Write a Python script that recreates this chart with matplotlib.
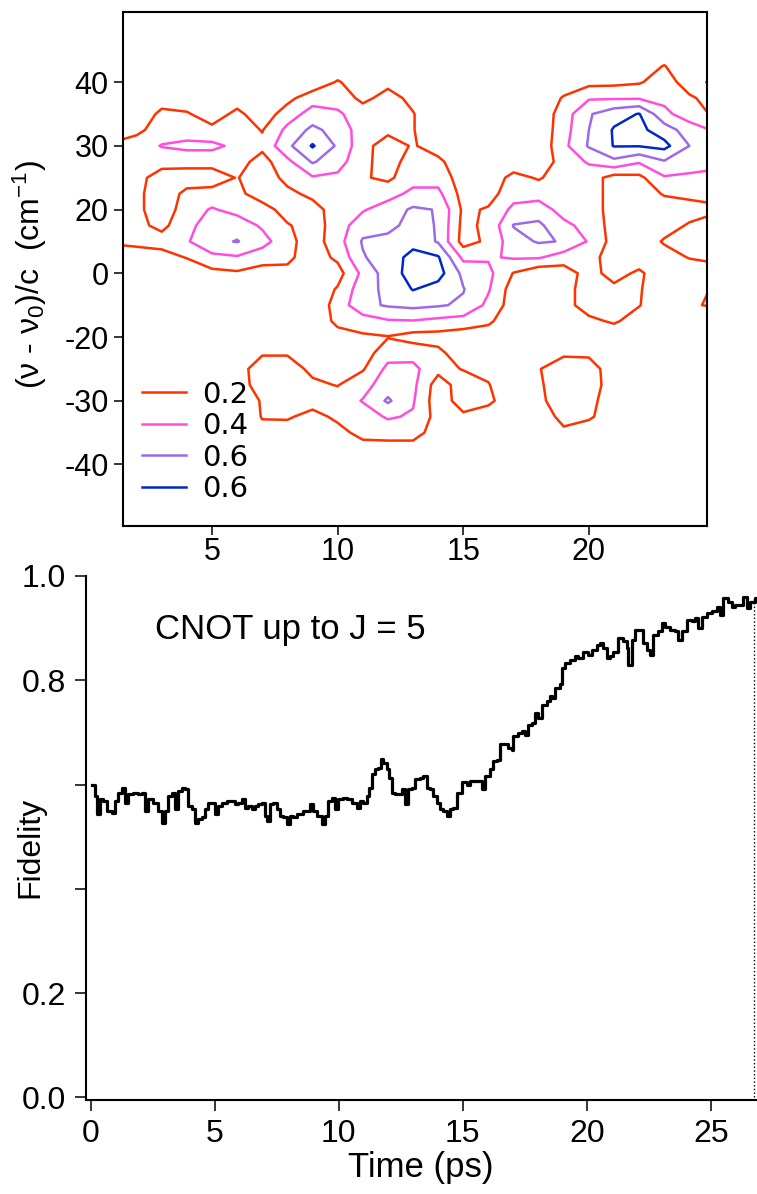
import numpy as np
import matplotlib
matplotlib.use("Agg")
import matplotlib.pyplot as plt
from matplotlib.lines import Line2D

plt.rcParams["font.family"] = ["Liberation Sans", "DejaVu Sans"]
plt.rcParams["mathtext.fontset"] = "custom"
plt.rcParams["mathtext.rm"] = "Liberation Sans"
plt.rcParams["mathtext.it"] = "Liberation Sans:italic"

# ---- top panel: distribution on a coarse grid (values in %)
grid_x = np.arange(1, 26)                 # 1 .. 25
grid_v = np.arange(50, -30.1, -2.5)       # 50 .. -30 (rows below, top to bottom)
z_rows = [
    " 5  5  5  5  5  5  5  5  5  5  5  5  5  5  5  5  5  5  5  5  5  5  5  5  5",
    " 5  5  5  5  5  5  5  5  5  5  5  5  5  5  5  5  5  5  5  5  5  5  5  5  5",
    " 5  5  5  5  5  5  5  5  5  5  5  5  5  5  5  5  5  5  5  5  5  5  5  5  5",
    " 5  5  5  5  5  5  5  5  5  5  5  5  5  5  5  5  5  5  5  5  5 10 21  5  8",
    " 5  5  5  5  5  5  5  5  5 22  8 15  5  5  5  5  5  5  8 14 15 18 30 10 25",
    " 5  5 10  8  5 10  5 14 32 32 15 27 15  5  5  5  5  5 22 38 38 38 35 23 12",
    " 5  5 25 22 10 25  8 30 48 43 30 30 21  5  5  5  5  5 30 58 72 81 45 30 17",
    " 5 15 30 30 25 30 19 45 65 52 30 25 21  5  5  5  5  5 32 60 82 85 70 50 38",
    "24 30 41 45 45 35 25 55 82 57 27 10 22 10  5  5  5  5 35 62 81 81 86 60 45",
    "30 30 28 27 27 28 12 35 62 48 26 10 30 25  5  5  8  5 30 42 55 42 58 45 45",
    "30 27 10 10 10 21  8 26 38 36 22 16 32 32 10  8 26 18 30 30 12 15 38 38 35",
    "30 25  8 25 27 26  8 15 25 32 30 32 45 45 12 12 32 32 30 30 12  8 22 25 25",
    "30 25  8 30 42 33 30 10 12 30 38 50 63 59 16 22 45 50 32 30 12  8  8 12 17",
    "30 25 15 33 52 52 37 22 10 30 52 52 70 58 14 25 61 64 45 33 12  8 12 22 28",
    "22 25 28 38 55 61 48 26 10 32 62 68 75 58 12 24 52 62 59 38 12  8 22 30 30",
    "10 10 12 21 35 38 28 24 10 24 58 72 85 82 35 38 42 42 30 26 12  8 12 21 25",
    " 5  5  5  5 14 17 12 15  5 12 45 70 88 88 55 45 19  5 10 28 12 24  5  8 10",
    " 5  5  5  5  5  5  5  5  5 22 52 65 81 72 61 42 10  5 12 30 25 22  5 12 22",
    " 5  5  5  5  5  5  5  5  5 28 55 62 65 62 57 35 10  5 12 30 30 21  5 18 22",
    " 5  5  5  5  5  5  5  5  5 25 30 38 39 35 32 24  5  5  8 15 23 10  5  5  5",
    " 5  5  5  5  5  5  5  5  5 12 17 19 12 12  8  8  5  5  5  5  5  5  5  5  5",
    " 5  5  5  5  5  5 18 18  8  5 10 32 33 25  8  5  5  5 17 16  5  5  5  5  5",
    " 5  5  5  5  5 12 30 30 15  8 18 45 45 26 19 15  5 19 30 30  8  5  5  5  5",
    " 5  5  5  5  5 10 30 30 24 19 33 50 45 10 30 21  5 17 32 32  8  5  5  5  5",
    " 5  5  5  5  5  5 22 30 30 30 41 63 42  8 30 25  5 15 32 28  5  5  5  5  5",
    " 5  5  5  5  5  5 21 23 12 25 32 42 38 12 16  8  5  5 28 24  5  5  5  5  5",
    " 5  5  5  5  5  5 15  8  5 12 28 30 30  8  5  5  5  5 15  5  5  5  5  5  5",
    " 5  5  5  5  5  5  5  5  5 10 10 10 10  5  5  5  5  5  5  5  5  5  5  5  5",
    " 5  5  5  5  5  5  5  5  5  5  5  5  5  5  5  5  5  5  5  5  5  5  5  5  5",
    " 5  5  5  5  5  5  5  5  5  5  5  5  5  5  5  5  5  5  5  5  5  5  5  5  5",
    " 5  5  5  5  5  5  5  5  5  5  5  5  5  5  5  5  5  5  5  5  5  5  5  5  5",
    " 5  5  5  5  5  5  5  5  5  5  5  5  5  5  5  5  5  5  5  5  5  5  5  5  5",
    " 5  5  5  5  5  5  5  5  5  5  5  5  5  5  5  5  5  5  5  5  5  5  5  5  5",
]
levels = [0.2, 0.4, 0.6, 0.8]
level_colors = ["#ff3300", "#ff4ddd", "#9c6ae8", "#0028c8"]
legend_labels = ["0.2", "0.4", "0.6", "0.6"]
top_xticks = [5, 10, 15, 20]
top_yticks = [40, 30, 20, 10, 0, -10, -20]
top_ytick_labels = ["40", "30", "20", "0", "-20", "-30", "-40"]

# ---- bottom panel: fidelity (time in ps)
step_time = [
    0.07, 0.17, 0.26, 0.37, 0.50, 0.64, 0.84, 0.98, 1.11, 1.25,
    1.38, 1.51, 1.72, 1.92, 2.05, 2.19, 2.32, 2.52, 2.72, 2.86,
    2.99, 3.13, 3.26, 3.40, 3.53, 3.66, 3.80, 3.93, 4.07, 4.20,
    4.34, 4.47, 4.60, 4.74, 4.87, 5.01, 5.14, 5.28, 5.48, 5.68,
    5.81, 5.95, 6.08, 6.22, 6.35, 6.49, 6.62, 6.76, 6.89, 7.03,
    7.09, 7.23, 7.36, 7.49, 7.63, 7.76, 7.90, 8.03, 8.17, 8.30,
    8.57, 8.84, 8.97, 9.11, 9.31, 9.44, 9.58, 9.71, 9.85, 9.98,
    10.18, 10.32, 10.52, 10.72, 10.85, 10.99, 11.12, 11.23, 11.32, 11.46,
    11.59, 11.69, 11.80, 11.93, 12.04, 12.13, 12.27, 12.40, 12.53, 12.67,
    12.80, 12.94, 13.07, 13.27, 13.41, 13.54, 13.68, 13.81, 13.95, 14.08,
    14.21, 14.35, 14.48, 14.62, 14.75, 14.95, 15.16, 15.29, 15.42, 15.63,
    15.76, 15.89, 16.10, 16.23, 16.37, 16.50, 16.70, 16.84, 16.97, 17.04,
    17.24, 17.37, 17.51, 17.64, 17.78, 17.91, 18.05, 18.18, 18.38, 18.52,
    18.58, 18.72, 18.92, 18.99, 19.12, 19.32, 19.52, 19.66, 19.86, 20.06,
    20.20, 20.40, 20.53, 20.67, 20.80, 20.94, 21.07, 21.27, 21.47, 21.61,
    21.68, 21.81, 21.94, 22.14, 22.28, 22.41, 22.55, 22.68, 22.88, 23.02,
    23.15, 23.35, 23.56, 23.69, 23.82, 24.03, 24.23, 24.36, 24.50, 24.63,
    24.83, 25.03, 25.24, 25.37, 25.51, 25.71, 25.84, 25.98, 26.11, 26.31,
    26.45, 26.58, 26.78,
]
fidelity = [
    0.600, 0.578, 0.543, 0.572, 0.568, 0.549, 0.546, 0.568, 0.584, 0.594,
    0.565, 0.581, 0.584, 0.581, 0.584, 0.549, 0.572, 0.565, 0.549, 0.527,
    0.549, 0.578, 0.584, 0.553, 0.588, 0.594, 0.591, 0.559, 0.553, 0.527,
    0.533, 0.537, 0.553, 0.565, 0.565, 0.543, 0.559, 0.565, 0.568, 0.568,
    0.562, 0.565, 0.572, 0.556, 0.559, 0.553, 0.559, 0.562, 0.565, 0.540,
    0.530, 0.562, 0.565, 0.553, 0.540, 0.537, 0.524, 0.540, 0.537, 0.543,
    0.549, 0.562, 0.549, 0.540, 0.524, 0.540, 0.568, 0.575, 0.553, 0.572,
    0.575, 0.572, 0.565, 0.556, 0.568, 0.565, 0.578, 0.594, 0.620, 0.629,
    0.632, 0.649, 0.642, 0.629, 0.613, 0.584, 0.581, 0.581, 0.591, 0.562,
    0.591, 0.594, 0.610, 0.613, 0.616, 0.594, 0.591, 0.578, 0.565, 0.553,
    0.549, 0.540, 0.553, 0.556, 0.584, 0.604, 0.600, 0.607, 0.607, 0.607,
    0.591, 0.616, 0.629, 0.645, 0.648, 0.677, 0.677, 0.670, 0.667, 0.693,
    0.699, 0.702, 0.696, 0.715, 0.718, 0.737, 0.728, 0.753, 0.760, 0.769,
    0.766, 0.785, 0.792, 0.823, 0.833, 0.839, 0.846, 0.843, 0.855, 0.849,
    0.858, 0.868, 0.871, 0.862, 0.843, 0.846, 0.855, 0.881, 0.875, 0.862,
    0.830, 0.878, 0.897, 0.897, 0.871, 0.858, 0.849, 0.887, 0.894, 0.910,
    0.903, 0.897, 0.894, 0.878, 0.894, 0.916, 0.913, 0.919, 0.900, 0.922,
    0.929, 0.932, 0.941, 0.925, 0.957, 0.951, 0.941, 0.945, 0.945, 0.960,
    0.938, 0.951, 0.957,
]
bottom_yticks = [0.0, 0.2, 0.4, 0.6, 0.8, 1.0]
bottom_ytick_labels = ["0.0", "0.2", "", "", "0.8", "1.0"]
bottom_xticks = [0, 5, 10, 15, 20, 25]

fig = plt.figure(figsize=(7.57, 11.94), dpi=100)

# ---------------- top
ax = fig.add_axes([0.1629, 0.5595, 0.7707, 0.4304])
Z = np.array([[int(s) for s in r.split()] for r in z_rows]) / 100.0
ax.contour(grid_x, grid_v[::-1], Z[::-1], levels=levels,
           colors=level_colors, linewidths=1.8)
ax.set_xlim(1.47, 24.69)
ax.set_ylim(-29.65, 51.0)
ax.set_xticks(top_xticks)
ax.set_yticks(top_yticks)
ax.set_yticklabels(top_ytick_labels)
ax.tick_params(direction="out", length=6.5, width=1.1, labelsize=22, pad=4)
ax.tick_params(axis="x", pad=1.5)
for s in ax.spines.values():
    s.set_linewidth(1.5)
fig.text(0.040, 0.770, r"(ν - ν$_0$)/c  (cm$^{-1}$)", rotation=90,
         fontsize=23, ha="center", va="center")

handles = [Line2D([], [], color=c, lw=1.8) for c in level_colors]
ax.legend(handles, legend_labels, loc="upper left", bbox_to_anchor=(0.032, 0.283),
          frameon=False, prop={"family": "DejaVu Sans", "size": 21},
          handlelength=1.5, handletextpad=0.55, labelspacing=0.12,
          borderaxespad=0.0, borderpad=0.0)

# ---------------- bottom
ax2 = fig.add_axes([0.1133, 0.0787, 0.8863, 0.4389])
ax2.step(step_time + [26.85], fidelity + [fidelity[-1]], where="post",
         color="black", lw=2.3)
ax2.vlines(26.76, 0, fidelity[-1], colors="black", linestyles=":", lw=1.0)
ax2.set_xlim(-0.2, 26.85)
ax2.set_ylim(-0.005, 1.0)
ax2.set_xticks(bottom_xticks)
ax2.set_yticks(bottom_yticks)
ax2.set_yticklabels(bottom_ytick_labels)
ax2.spines["top"].set_visible(False)
ax2.spines["right"].set_visible(False)
for s in ("left", "bottom"):
    ax2.spines[s].set_linewidth(1.5)
ax2.tick_params(direction="out", length=8, width=1.1, labelsize=23, pad=6)
ax2.set_xlabel("Time (ps)", fontsize=25, labelpad=1)
fig.text(0.040, 0.290, "Fidelity", rotation=90, fontsize=23, ha="center", va="center")
ax2.text(2.6, 0.897, "CNOT up to J = 5", fontsize=25, ha="left", va="center")

fig.savefig("out.png", dpi=100)
